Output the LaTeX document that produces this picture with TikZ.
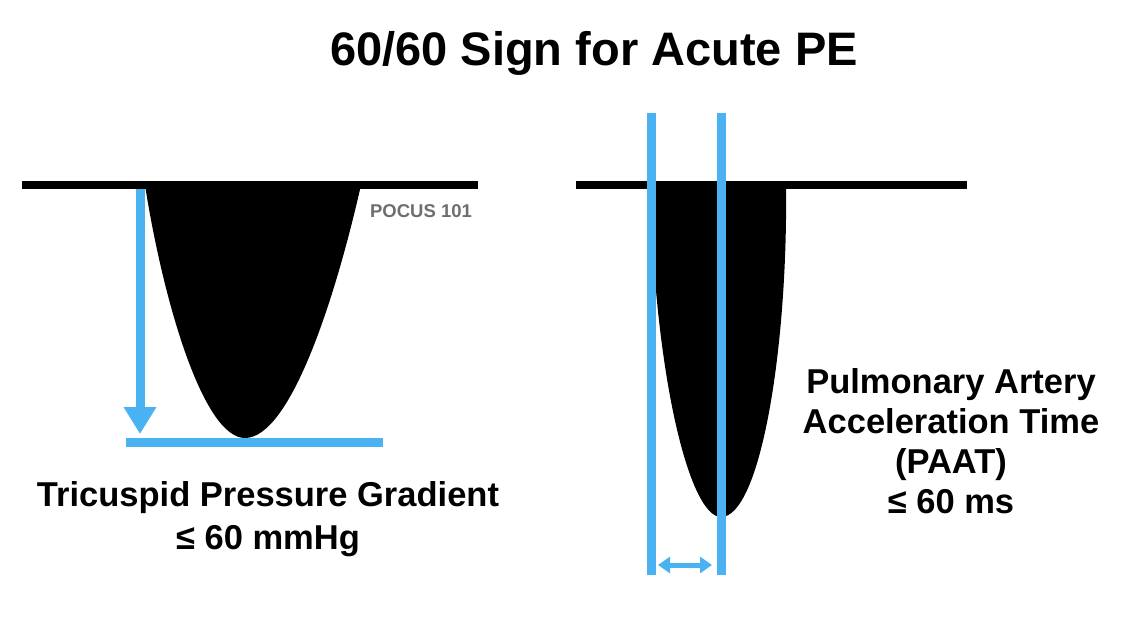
\documentclass[tikz,border=0pt]{standalone}
\usepackage{fontspec}
\setmainfont{Liberation Sans}
\usetikzlibrary{arrows.meta}
\definecolor{skyblue}{RGB}{74,178,240}
\definecolor{markgray}{RGB}{110,110,110}
\tikzset{
  baseline line/.style={line width=8pt, black},
  bluebar/.style={line width=9pt, skyblue},
  wave/.style={fill=black, draw=none},
  bigtext/.style={font=\bfseries\fontsize{34.5}{40}\selectfont, anchor=base, inner sep=0pt},
}
\begin{document}
\begin{tikzpicture}[x=1pt,y=-1pt]
\useasboundingbox (0,0) rectangle (1139,629);
% title
\node[font=\bfseries\fontsize{47}{50}\selectfont, anchor=base, inner sep=0pt] (title) at (594,65) {60/60 Sign for Acute PE};

% ---- left panel ----
\coordinate (L1) at (22,185);
\coordinate (L2) at (478,185);
\fill[wave] (145,185) .. controls (163,300) and (203,438) .. (245,438)
            .. controls (290,438) and (335,300) .. (361,185) -- cycle;
\draw[baseline line] (L1) -- (L2);
\coordinate (arrS) at (140,189);
\coordinate (arrE) at (140,434);
\draw[bluebar, -{Triangle[length=27pt,width=31pt]}] (arrS) -- (arrE);
\coordinate (bl1) at (126,442.5);
\coordinate (bl2) at (383,442.5);
\draw[bluebar] (bl1) -- (bl2);
\node[font=\bfseries\fontsize{18.5}{20}\selectfont, text=markgray, anchor=base, inner sep=0pt] (pocus) at (421,217) {POCUS 101};
\node[bigtext] (tpg1) at (268,506) {Tricuspid Pressure Gradient};
\node[bigtext] (tpg2) at (268,549) {≤ 60 mmHg};

% ---- right panel ----
\coordinate (R1) at (576,184.5);
\coordinate (R2) at (967,184.5);
\fill[wave] (650,185) .. controls (655,380) and (690,517) .. (721,517)
            .. controls (760,517) and (788,350) .. (786,185) -- cycle;
\draw[baseline line] (R1) -- (R2);
\coordinate (va1) at (651.5,113);
\coordinate (va2) at (651.5,575);
\coordinate (vb1) at (721.5,113);
\coordinate (vb2) at (721.5,575);
\draw[bluebar] (va1) -- (va2);
\draw[bluebar] (vb1) -- (vb2);
\coordinate (da1) at (658,565);
\coordinate (da2) at (712,565);
\draw[line width=5pt, skyblue, {Triangle[length=12pt,width=16pt]}-{Triangle[length=12pt,width=16pt]}] (da1) -- (da2);
\node[bigtext] (pa1) at (951,393) {Pulmonary Artery};
\node[bigtext] (pa2) at (951,433) {Acceleration Time};
\node[bigtext] (pa3) at (951,473) {(PAAT)};
\node[bigtext] (pa4) at (951,513) {≤ 60 ms};
\end{tikzpicture}
\end{document}
